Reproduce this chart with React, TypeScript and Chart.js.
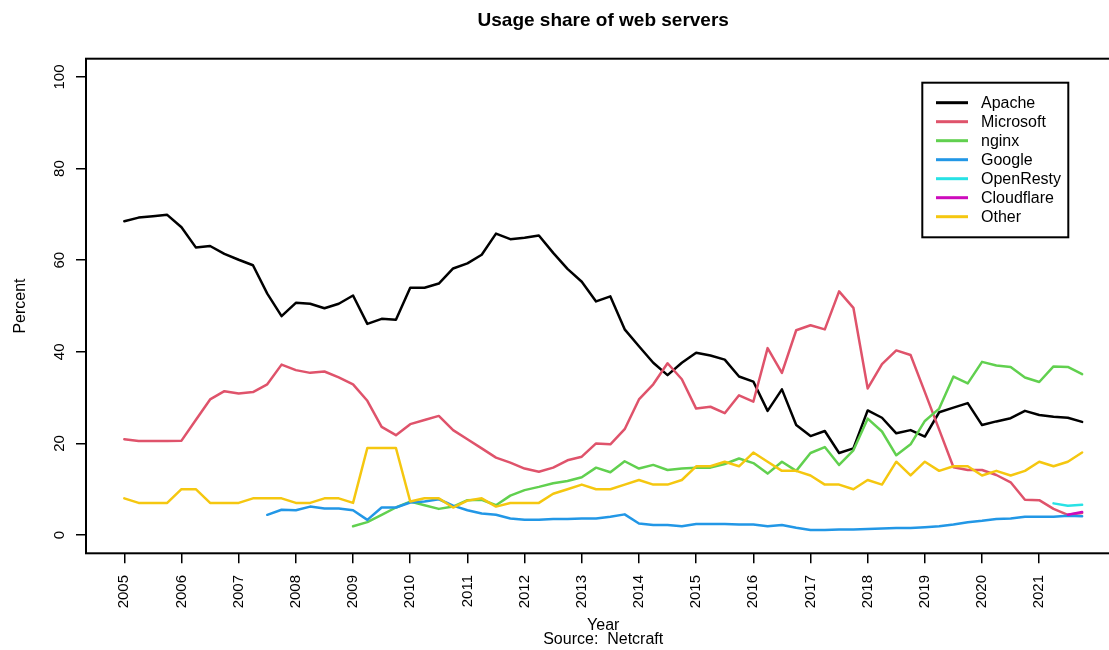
import React, { useEffect, useRef } from "react";
import { Chart, registerables } from "chart.js";

Chart.register(...registerables);

const N = null;

// ---- data (quarterly shares, percent) ----
const START_YEAR = 2005;
const QUARTER_STEP = 0.25;

const apache = [
  68.5, 69.3, 69.6, 69.9, 67.2, 62.8, 63.1, 61.4, 60.1, 58.9, 52.7, 47.8,
  50.7, 50.5, 49.5, 50.5, 52.3, 46.1, 47.2, 47.0, 54.0, 54.0, 54.9, 58.2,
  59.3, 61.2, 65.8, 64.6, 64.9, 65.4, 61.6, 58.1, 55.3, 51.0, 52.1, 44.9,
  41.2, 37.6, 34.9, 37.6, 39.8, 39.2, 38.3, 34.6, 33.5, 27.1, 31.8, 24.0,
  21.6, 22.7, 17.9, 18.9, 27.2, 25.6, 22.2, 22.9, 21.5, 26.8, 27.8, 28.8,
  24.0, 24.8, 25.5, 27.1, 26.2, 25.8, 25.6, 24.7,
];

const microsoft = [
  20.9, 20.5, 20.5, 20.5, 20.6, 25.1, 29.6, 31.4, 30.9, 31.2, 32.9, 37.2,
  36.0, 35.4, 35.7, 34.4, 32.9, 29.3, 23.6, 21.8, 24.2, 25.1, 26.0, 22.9,
  20.9, 18.9, 16.9, 15.8, 14.5, 13.8, 14.7, 16.3, 17.1, 20.0, 19.8, 23.1,
  29.6, 32.9, 37.5, 34.0, 27.6, 28.0, 26.6, 30.5, 29.1, 40.8, 35.4, 44.7,
  45.8, 44.9, 53.2, 49.6, 32.0, 37.3, 40.3, 39.3, 31.2, 23.0, 14.8, 14.2,
  14.2, 13.1, 11.5, 7.7, 7.6, 5.7, 4.4, 4.8,
];

const nginx = [
  N, N, N, N, N, N, N, N, N, N, N, N,
  N, N, N, N, 1.9, 2.8, 4.4, 6.0, 7.3, 6.5, 5.7, 6.2,
  7.6, 7.7, 6.5, 8.6, 9.8, 10.5, 11.3, 11.8, 12.6, 14.7, 13.7, 16.1,
  14.5, 15.3, 14.2, 14.5, 14.7, 14.7, 15.5, 16.7, 15.7, 13.4, 16.0, 14.0,
  17.9, 19.2, 15.3, 18.5, 25.4, 22.6, 17.4, 19.8, 24.9, 27.6, 34.6, 33.1,
  37.8, 37.0, 36.7, 34.4, 33.4, 36.8, 36.7, 35.1,
];

const google = [
  N, N, N, N, N, N, N, N, N, N, 4.4, 5.5,
  5.4, 6.2, 5.8, 5.8, 5.4, 3.3, 6.0, 6.0, 7.1, 7.3, 7.8, 6.4,
  5.4, 4.7, 4.4, 3.6, 3.3, 3.3, 3.5, 3.5, 3.6, 3.6, 4.0, 4.5,
  2.5, 2.2, 2.2, 1.9, 2.4, 2.4, 2.4, 2.3, 2.3, 1.9, 2.2, 1.6,
  1.1, 1.1, 1.2, 1.2, 1.3, 1.4, 1.5, 1.5, 1.7, 1.9, 2.3, 2.8,
  3.1, 3.5, 3.6, 4.0, 4.0, 4.0, 4.2, 4.1,
];

const openresty = [
  N, N, N, N, N, N, N, N, N, N, N, N,
  N, N, N, N, N, N, N, N, N, N, N, N,
  N, N, N, N, N, N, N, N, N, N, N, N,
  N, N, N, N, N, N, N, N, N, N, N, N,
  N, N, N, N, N, N, N, N, N, N, N, N,
  N, N, N, N, N, 6.9, 6.4, 6.6,
];

const cloudflare = [
  N, N, N, N, N, N, N, N, N, N, N, N,
  N, N, N, N, N, N, N, N, N, N, N, N,
  N, N, N, N, N, N, N, N, N, N, N, N,
  N, N, N, N, N, N, N, N, N, N, N, N,
  N, N, N, N, N, N, N, N, N, N, N, N,
  N, N, N, N, N, N, 4.4, 5.0,
];

const other = [
  8, 7, 7, 7, 10, 10, 7, 7, 7, 8, 8, 8,
  7, 7, 8, 8, 7, 19, 19, 19, 7.3, 8, 8, 6,
  7.5, 8, 6.2, 7, 7, 7, 9, 10, 11, 10, 10, 11,
  12, 11, 11, 12, 15, 15, 16, 15, 18, 16, 14, 14,
  13, 11, 11, 10, 12, 11, 16, 13, 16, 14, 15, 15,
  13, 14, 13, 14, 16, 15, 16, 18,
];

const seriesNames = ["Apache", "Microsoft", "nginx", "Google", "OpenResty", "Cloudflare", "Other"];
const seriesValues = [apache, microsoft, nginx, google, openresty, cloudflare, other];
const seriesColors = ["#000000", "#DF536B", "#61D04F", "#2297E6", "#28E2E5", "#CD0BBC", "#F5C710"];

const yearTicks = [2005, 2006, 2007, 2008, 2009, 2010, 2011, 2012, 2013, 2014, 2015, 2016, 2017, 2018, 2019, 2020, 2021];
const percentTicks = [0, 20, 40, 60, 80, 100];

const TITLE = "Usage share of web servers";
const X_TITLE = "Year";
const Y_TITLE = "Percent";
const SOURCE = "Source:  Netcraft";

// ---- layout ----
const W = 1109;
const H = 650;
const FONT = "'Liberation Sans', Arial, Helvetica, sans-serif";
const X_MIN = 2004.33;
const X_MAX = 2022.22;
const X_PLOT_MAX = 2022.42; // full R plot region (extends beyond the picture)
const Y_MIN = -4;
const Y_MAX = 104;

const quarterTimes = apache.map((_, i) => START_YEAR + i * QUARTER_STEP);

const rPlugin = {
  id: "rStyle",
  afterDraw(chart: any) {
    const ctx = chart.ctx as CanvasRenderingContext2D;
    const { left, top, bottom } = chart.chartArea;
    const xs = chart.scales.x;
    const ys = chart.scales.y;
    const plotRight = xs.getPixelForValue(X_PLOT_MAX);
    const plotCenter = (left + plotRight) / 2;

    ctx.save();
    // box
    ctx.strokeStyle = "#000";
    ctx.lineWidth = 2;
    ctx.strokeRect(left, top, plotRight - left, bottom - top);

    ctx.fillStyle = "#000";
    // x tick labels (vertical)
    ctx.font = `15px ${FONT}`;
    for (const yr of yearTicks) {
      const px = xs.getPixelForValue(yr);
      ctx.save();
      ctx.translate(px, bottom + 21.7);
      ctx.rotate(-Math.PI / 2);
      ctx.textAlign = "right";
      ctx.textBaseline = "middle";
      ctx.fillText(String(yr), 0, 0);
      ctx.restore();
    }
    // y tick labels (parallel to axis)
    for (const v of percentTicks) {
      const py = ys.getPixelForValue(v);
      ctx.save();
      ctx.translate(63.5, py);
      ctx.rotate(-Math.PI / 2);
      ctx.textAlign = "center";
      ctx.textBaseline = "alphabetic";
      ctx.fillText(String(v), 0, 0);
      ctx.restore();
    }
    // axis titles
    ctx.font = `16px ${FONT}`;
    ctx.save();
    ctx.translate(25, (top + bottom) / 2);
    ctx.rotate(-Math.PI / 2);
    ctx.textAlign = "center";
    ctx.textBaseline = "alphabetic";
    ctx.fillText(Y_TITLE, 0, 0);
    ctx.restore();

    ctx.textAlign = "center";
    ctx.textBaseline = "alphabetic";
    ctx.fillText(X_TITLE, plotCenter, 629.5);
    ctx.fillText(SOURCE, plotCenter, 644);

    // main title
    ctx.font = `bold 19px ${FONT}`;
    ctx.fillText(TITLE, plotCenter, 26);

    // legend
    const lx = 922.3, ly = 82.7, lw = 146, lh = 154.6;
    ctx.fillStyle = "#fff";
    ctx.fillRect(lx, ly, lw, lh);
    ctx.strokeStyle = "#000";
    ctx.lineWidth = 2;
    ctx.strokeRect(lx, ly, lw, lh);
    ctx.font = `16px ${FONT}`;
    ctx.textAlign = "left";
    ctx.textBaseline = "middle";
    seriesNames.forEach((name, i) => {
      const y = 102.7 + 19 * i;
      ctx.strokeStyle = seriesColors[i];
      ctx.lineWidth = 3;
      ctx.lineCap = "butt";
      ctx.beginPath();
      ctx.moveTo(936, y);
      ctx.lineTo(968, y);
      ctx.stroke();
      ctx.fillStyle = "#000";
      ctx.fillText(name, 981, y + 0.5);
    });
    ctx.restore();
  },
};

export default function App() {
  const canvasRef = useRef<HTMLCanvasElement | null>(null);

  useEffect(() => {
    document.body.style.margin = "0";
    const canvas = canvasRef.current;
    if (!canvas) return;
    const datasets = seriesNames.map((name, i) => ({
      label: name,
      data: seriesValues[i].map((v, k) => ({ x: quarterTimes[k], y: v })),
      borderColor: seriesColors[i],
      backgroundColor: seriesColors[i],
      borderWidth: 2.5,
      pointRadius: 0,
      tension: 0,
      fill: false,
      spanGaps: false,
      borderJoinStyle: "round" as const,
      borderCapStyle: "round" as const,
      order: seriesNames.length - i,
    }));

    const tickGrid = {
      drawOnChartArea: false,
      drawTicks: true,
      tickLength: 10,
      color: "#000",
      lineWidth: 1.5,
    };

    const chart = new Chart(canvas, {
      type: "line",
      data: { datasets },
      options: {
        animation: false,
        responsive: false,
        devicePixelRatio: 1,
        layout: { padding: { top: 58.7, left: 0, right: 0, bottom: 0 } },
        plugins: {
          legend: { display: false },
          title: { display: false },
          tooltip: { enabled: false },
        },
        scales: {
          x: {
            type: "linear",
            min: X_MIN,
            max: X_MAX,
            bounds: "data",
            afterBuildTicks: (s: any) => {
              s.ticks = yearTicks.map((v) => ({ value: v }));
            },
            afterFit: (s: any) => {
              s.height = H - 553.3;
            },
            grid: tickGrid,
            border: { display: false },
            ticks: { display: false },
          },
          y: {
            type: "linear",
            min: Y_MIN,
            max: Y_MAX,
            bounds: "data",
            afterBuildTicks: (s: any) => {
              s.ticks = percentTicks.map((v) => ({ value: v }));
            },
            afterFit: (s: any) => {
              s.width = 86;
            },
            grid: tickGrid,
            border: { display: false },
            ticks: { display: false },
          },
        },
      } as any,
      plugins: [rPlugin],
    });
    return () => chart.destroy();
  }, []);

  return (
    <div style={{ position: "fixed", left: 0, top: 0, width: W, height: H, background: "#fff" }}>
      <canvas ref={canvasRef} width={W} height={H} style={{ display: "block" }} />
    </div>
  );
}
